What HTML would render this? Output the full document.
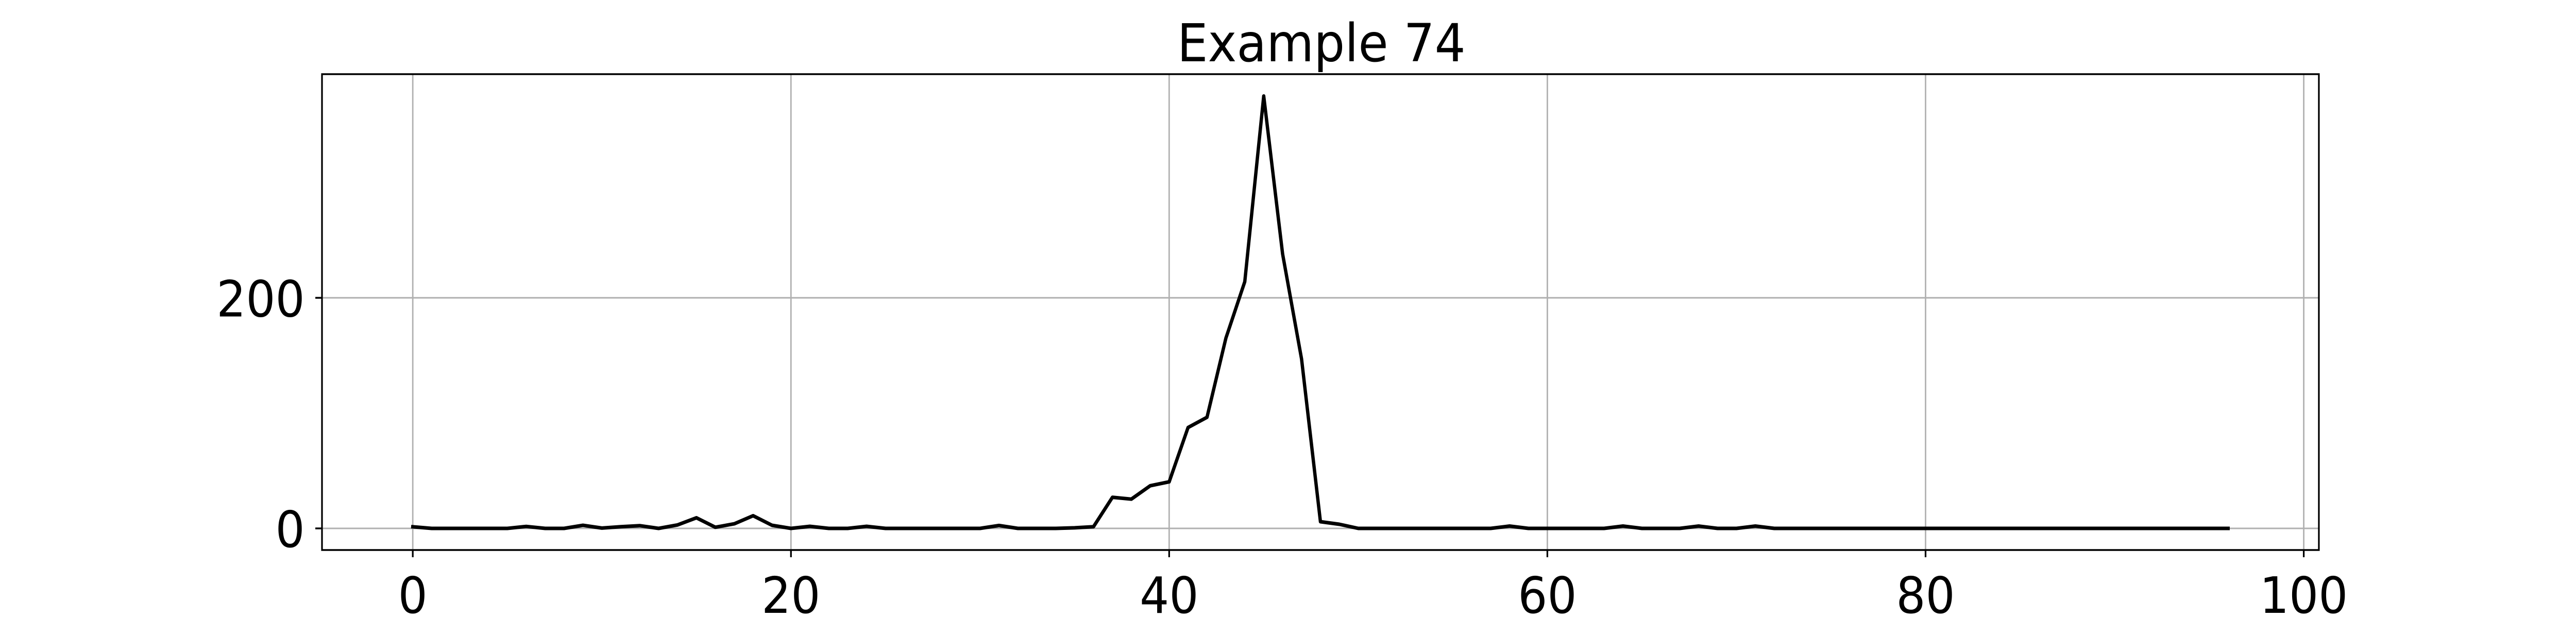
<!DOCTYPE html>
<html><head><meta charset="utf-8"><style>
html,body{margin:0;padding:0;background:#fff;width:100%;height:100%;overflow:hidden;}
svg{display:block;font-family:"DejaVu Sans","Liberation Sans",sans-serif;overflow:hidden;width:100vw;height:100vh;}
</style></head><body>
<svg id="chart" viewBox="0 0 5400 1200" preserveAspectRatio="none" xmlns="http://www.w3.org/2000/svg">
<rect width="5400" height="1200" fill="#fff"/>
<text x="2770" y="119" font-size="102" text-anchor="middle" fill="#000">Example 74</text>
<g id="grid"></g>
<g id="ticks"></g>
<g id="series"></g>
<rect x="675" y="144" width="4186" height="924" fill="none" stroke="#000" stroke-width="3.5"/>
</svg>
<script>
const values = [1.4,0,0,0,0,0,1.7,0,0,2.7,0.3,1.5,2.4,0,3,9.2,1,4,11,2.7,0,1.8,0,0,1.8,0,0,0,0,0,0,2.5,0,0,0,0.5,1.5,27,25.4,37,40.4,87.5,96.4,165,214,375,238,147,5.8,3.6,0,0,0,0,0,0,0,0,2,0,0,0,0,0,2,0,0,0,2,0,0,2,0,0,0,0,0,0,0,0,0,0,0,0,0,0,0,0,0,0,0,0,0,0,0,0,0];
const xTicks = [0,20,40,60,80,100];
const yTicks = [0,200];
const xMin=-4.8, xMax=100.8, yMin=-18.75, yMax=394;
const L=675,R=4861,T=144,B=1068;
function sx(v){return L+(v-xMin)/(xMax-xMin)*(R-L);}
function sy(v){return B-(v-yMin)/(yMax-yMin)*(B-T);}
const NS="http://www.w3.org/2000/svg";
const grid=document.getElementById('grid'), ticks=document.getElementById('ticks'), series=document.getElementById('series');
function mk(tag,attrs,parent){const e=document.createElementNS(NS,tag);for(const k in attrs)e.setAttribute(k,attrs[k]);parent.appendChild(e);return e;}
xTicks.forEach(t=>{
  const x=sx(t);
  const g=mk('line',{x1:x,x2:x,y1:T,y2:B,stroke:'#b0b0b0','stroke-width':3},grid);
  
  
  const tk=mk('line',{x1:x,x2:x,y1:B,y2:B+14,stroke:'#000','stroke-width':3.5},ticks);
  
  
  const lb=mk('text',{x:x,y:1190,'font-size':97,'text-anchor':'middle',fill:'#000'},ticks);
  lb.textContent=t;
  
  
});
yTicks.forEach(t=>{
  const y=sy(t);
  const g=mk('line',{x1:L,x2:R,y1:y,y2:y,stroke:'#b0b0b0','stroke-width':3},grid);
  
  
  const tk=mk('line',{x1:L-14,x2:L,y1:y,y2:y,stroke:'#000','stroke-width':3.5},ticks);
  
  
  const lb=mk('text',{x:L-36,y:y+36,'font-size':97,'text-anchor':'end',fill:'#000'},ticks);
  lb.textContent=t;
  
  
});
const pts=values.map((v,i)=>sx(i).toFixed(1)+','+sy(v).toFixed(1)).join(' ');
const line=mk('polyline',{points:pts,fill:'none',stroke:'#000','stroke-width':7,'stroke-linejoin':'round','stroke-linecap':'square'},series);


</script>
</body></html>
